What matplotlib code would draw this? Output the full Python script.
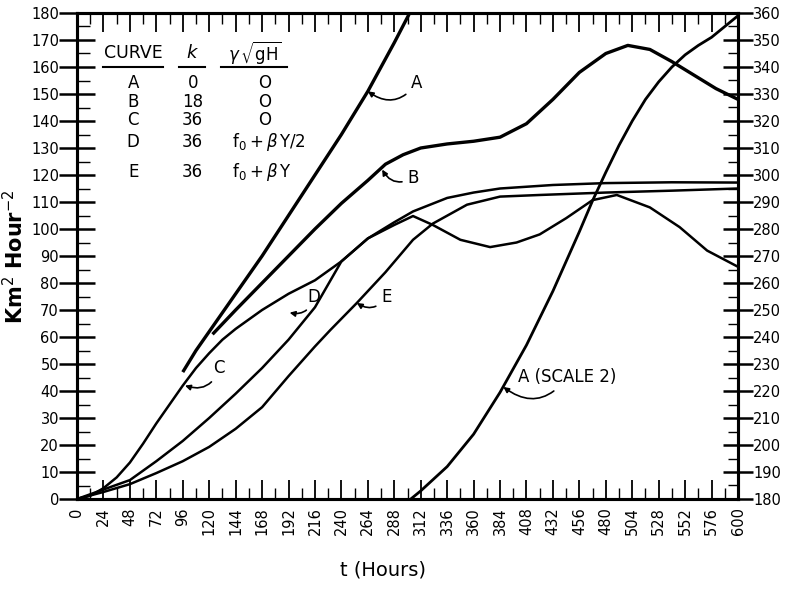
import numpy as np
import matplotlib
matplotlib.use("Agg")
import matplotlib.pyplot as plt
from matplotlib.ticker import MultipleLocator

# -------------------------
# Data (t in hours, left scale unless noted)
# -------------------------
a_t = [96, 108, 120, 144, 168, 192, 216, 240, 264, 288, 302]
a_y = [47, 55, 62, 76, 90, 105, 120, 135, 151, 169, 180]

# curve A continued on scale 2 (right axis, 180-360)
a2_t = [303, 312, 336, 360, 384, 408, 432, 456, 468, 480, 492, 504, 516, 528,
        540, 552, 564, 576, 588, 600]
a2_y = [180, 183, 192, 204, 219.5, 237, 257, 279, 290.5, 301, 311, 320, 328,
        334.5, 340, 344.5, 348, 351, 355, 359]

b_t = [123, 144, 168, 192, 216, 240, 264, 280, 296, 312, 336, 360, 384, 408,
       432, 456, 468, 480, 500, 520, 540, 560, 580, 600]
b_y = [61, 70, 80, 90, 100, 109.5, 118, 124, 127.5, 130, 131.5, 132.5, 134,
       139, 148, 158, 161.5, 165, 168, 166.5, 162, 157, 152, 148]

c_t = [0, 12, 24, 36, 48, 60, 72, 84, 96, 108, 120, 132, 144, 168, 192, 216,
       240, 264, 288, 305, 336, 360, 384, 432, 480, 540, 600]
c_y = [0, 1.2, 4, 8, 13.5, 20.5, 28, 35, 42, 48.5, 54, 59, 63, 70, 76, 81,
       88, 96.5, 102.5, 106.5, 111.5, 113.5, 115, 116.3, 117, 117.3, 117.2]

d_t = [0, 24, 48, 72, 96, 120, 144, 168, 192, 216, 240, 264, 288, 305, 323,
       348, 375, 399, 420, 444, 468, 490, 520, 547, 572, 600]
d_y = [0, 3.5, 7, 14, 21.5, 30, 39, 48.5, 59, 71, 88, 96.5, 101.5, 104.8,
       101.5, 96, 93.3, 95, 98, 104, 110.7, 112.6, 108, 100.7, 92, 86]

e_t = [0, 24, 48, 72, 96, 120, 144, 168, 192, 216, 230, 254, 280, 305, 323,
       354, 384, 420, 480, 540, 600]
e_y = [0, 2.6, 5.5, 9.6, 14, 19.3, 26, 34, 45.5, 56.5, 62.6, 72.6, 84, 96,
       102, 109, 112, 112.6, 113.5, 114.2, 115]

table_curves = ["A", "B", "C", "D", "E"]
table_k = ["0", "18", "36", "36", "36"]
table_g = ["O", "O", "O", r"$\mathrm{f}_0+\beta\,\mathrm{Y/2}$",
           r"$\mathrm{f}_0+\beta\,\mathrm{Y}$"]

# -------------------------
# Figure
# -------------------------
plt.rcParams["font.family"] = "DejaVu Sans"
plt.rcParams["mathtext.fontset"] = "dejavusans"

fig = plt.figure(figsize=(7.88, 5.89), dpi=100)
ax = fig.add_axes([77 / 788, 1 - 499 / 589, 661 / 788, 486 / 589])
ax2 = ax.twinx()

ax.plot(a_t, a_y, color="black", lw=2.4, solid_capstyle="butt")
ax.plot(b_t, b_y, color="black", lw=2.4, solid_capstyle="butt")
ax.plot(c_t, c_y, color="black", lw=1.8)
ax.plot(d_t, d_y, color="black", lw=1.8)
ax.plot(e_t, e_y, color="black", lw=1.8)
ax2.plot(a2_t, a2_y, color="black", lw=2.0)

ax.set_xlim(0, 600)
ax.set_ylim(0, 180)
ax2.set_ylim(180, 360)

ax.xaxis.set_major_locator(MultipleLocator(24))
ax.xaxis.set_minor_locator(MultipleLocator(12))
ax.yaxis.set_major_locator(MultipleLocator(10))
ax.yaxis.set_minor_locator(MultipleLocator(5))
ax2.yaxis.set_major_locator(MultipleLocator(10))
ax2.yaxis.set_minor_locator(MultipleLocator(5))

ax.tick_params(axis="x", which="major", direction="in", length=14, width=1.3,
               top=True, labelsize=10.5, labelrotation=90, pad=6)
ax.tick_params(axis="x", which="minor", direction="in", length=8, width=1.0, top=True)
ax.tick_params(axis="y", which="major", direction="inout", length=26, width=1.8,
               labelsize=10.5, pad=0)
ax.tick_params(axis="y", which="minor", direction="in", length=9, width=1.0)
ax2.tick_params(axis="y", which="major", direction="inout", length=22, width=1.8,
                labelsize=10.5, pad=0)
ax2.tick_params(axis="y", which="minor", direction="in", length=7, width=1.0)

for a in (ax, ax2):
    for s in a.spines.values():
        s.set_linewidth(2.2)

ax.set_xlabel("t (Hours)", fontsize=14)
ax.xaxis.set_label_coords((383 - 77) / 661, -(560 - 499) / 486)
ax.set_ylabel(r"Km$^2$ Hour$^{-2}$", fontsize=15, fontweight="bold")
ax.yaxis.set_label_coords(-(77 - 27) / 661, (499 - 257) / 486)

# -------------------------
# Curve labels with arrows
# -------------------------
arrow = dict(arrowstyle="-|>", color="black", lw=1.2,
             connectionstyle="arc3,rad=-0.5", shrinkA=2, shrinkB=0,
             mutation_scale=8)
ax.annotate("A", xy=(264, 151), xytext=(303, 154), fontsize=12,
            va="center", arrowprops=arrow)
ax.annotate("B", xy=(277, 122), xytext=(300, 119), fontsize=12,
            va="center", arrowprops=arrow)
ax.annotate("C", xy=(98, 42), xytext=(124, 48.5), fontsize=12,
            va="center", arrowprops=arrow)
ax.annotate("D", xy=(193, 69), xytext=(209, 75), fontsize=12,
            va="center", arrowprops=arrow)
ax.annotate("E", xy=(254, 72.6), xytext=(276, 75), fontsize=12,
            va="center", arrowprops=arrow)
ax.annotate("A (SCALE 2)", xy=(387, 41.5), xytext=(400, 45), fontsize=12,
            va="center", arrowprops=arrow)

# -------------------------
# Parameter table
# -------------------------
ax.text(51, 165, "CURVE", ha="center", va="center", fontsize=12.5)
ax.text(105, 165, r"$k$", ha="center", va="center", fontsize=13)
ax.text(161.5, 165, r"$\gamma\,\sqrt{\mathrm{gH}}$", ha="center", va="center", fontsize=12)
ax.plot([24, 78], [160, 160], color="black", lw=1.5)
ax.plot([93, 116], [160, 160], color="black", lw=1.5)
ax.plot([131, 191], [160, 160], color="black", lw=1.5)

row_y = [154, 147, 140.4, 132.2, 121]
for i in range(5):
    ax.text(51, row_y[i], table_curves[i], ha="center", va="center", fontsize=12)
    ax.text(105, row_y[i], table_k[i], ha="center", va="center", fontsize=12)
    if i < 3:
        ax.text(170.5, row_y[i], table_g[i], ha="center", va="center", fontsize=12)
    else:
        ax.text(141, row_y[i], table_g[i], ha="left", va="center", fontsize=12)

fig.savefig("out.png", dpi=100)
